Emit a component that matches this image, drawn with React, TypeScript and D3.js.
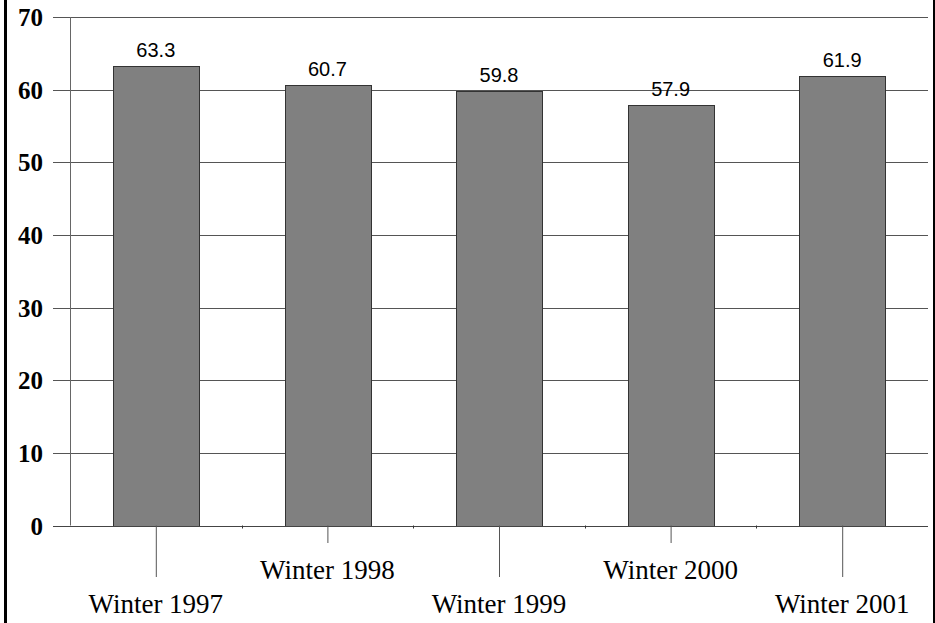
import React, { useEffect, useRef } from 'react';
import * as d3 from 'd3';

const categories = ['Winter 1997', 'Winter 1998', 'Winter 1999', 'Winter 2000', 'Winter 2001'];
const values = [63.3, 60.7, 59.8, 57.9, 61.9];
const yTicks = [0, 10, 20, 30, 40, 50, 60, 70];

const App: React.FC = () => {
    const ref = useRef<SVGSVGElement | null>(null);

    useEffect(() => {
        if (!ref.current) return;
        const width = 935;
        const height = 623;
        const left = 70, right = 928, top = 17, bottom = 525.5;

        const svg = d3.select(ref.current);
        svg.selectAll('*').remove();
        svg.attr('width', width).attr('height', height);

        svg.append('rect').attr('width', width).attr('height', height).attr('fill', '#fff');

        const x = d3.scaleBand<string>()
            .domain(categories)
            .range([left, right])
            .paddingInner(0.5)
            .paddingOuter(0.25);

        const y = d3.scaleLinear().domain([0, 70]).range([bottom, top]);

        // horizontal gridlines + left ticks
        svg.append('g')
            .selectAll('line')
            .data(yTicks.filter(d => d > 0))
            .enter()
            .append('line')
            .attr('x1', 53)
            .attr('x2', right)
            .attr('y1', d => Math.round(y(d)) + 0.5)
            .attr('y2', d => Math.round(y(d)) + 0.5)
            .attr('stroke', '#555')
            .attr('stroke-width', 1);

        // y axis line
        svg.append('line')
            .attr('x1', left + 0.5).attr('x2', left + 0.5)
            .attr('y1', y(70)).attr('y2', bottom)
            .attr('stroke', '#666');

        // y tick labels
        svg.append('g')
            .selectAll('text')
            .data(yTicks)
            .enter()
            .append('text')
            .attr('x', 43)
            .attr('y', d => y(d) + 9)
            .attr('text-anchor', 'end')
            .attr('font-family', '"Liberation Serif", "Times New Roman", serif')
            .attr('font-weight', 'bold')
            .attr('font-size', '25px')
            .attr('fill', '#000')
            .text(d => d);

        // bars
        svg.append('g')
            .selectAll('rect')
            .data(values)
            .enter()
            .append('rect')
            .attr('x', (d, i) => Math.round(x(categories[i])!) + 0.5)
            .attr('y', d => Math.round(y(d)) + 0.5)
            .attr('width', Math.round(x.bandwidth()))
            .attr('height', d => Math.round(bottom) - Math.round(y(d)))
            .attr('fill', '#808080')
            .attr('stroke', '#333')
            .attr('stroke-width', 1);

        // value labels
        svg.append('g')
            .selectAll('text')
            .data(values)
            .enter()
            .append('text')
            .attr('x', (d, i) => x(categories[i])! + x.bandwidth() / 2)
            .attr('y', d => y(d) - 9)
            .attr('text-anchor', 'middle')
            .attr('font-family', '"Liberation Sans", Arial, sans-serif')
            .attr('font-size', '20px')
            .attr('fill', '#000')
            .text(d => d.toFixed(1));

        // baseline
        svg.append('line')
            .attr('x1', 53).attr('x2', right)
            .attr('y1', Math.round(bottom) + 0.5).attr('y2', Math.round(bottom) + 0.5)
            .attr('stroke', '#444');

        // small ticks at category boundaries
        const step = x.step();
        svg.append('g')
            .selectAll('line')
            .data(d3.range(1, categories.length))
            .enter()
            .append('line')
            .attr('x1', i => Math.round(left + i * step) + 0.5)
            .attr('x2', i => Math.round(left + i * step) + 0.5)
            .attr('y1', bottom)
            .attr('y2', bottom + 3)
            .attr('stroke', '#333');

        // staggered category ticks and labels
        const g = svg.append('g')
            .selectAll('g')
            .data(categories)
            .enter()
            .append('g')
            .attr('transform', d => `translate(${x(d)! + x.bandwidth() / 2},0)`);

        g.append('line')
            .attr('x1', 0.5).attr('x2', 0.5)
            .attr('y1', bottom)
            .attr('y2', (d, i) => (i % 2 === 0 ? 577 : 543))
            .attr('stroke', '#555');

        g.append('text')
            .attr('y', (d, i) => (i % 2 === 0 ? 613 : 579))
            .attr('text-anchor', 'middle')
            .attr('font-family', '"Liberation Serif", "Times New Roman", serif')
            .attr('font-size', '27px')
            .attr('fill', '#000')
            .text(d => d);

        // frame edges
        svg.append('rect').attr('x', 4).attr('y', 0).attr('width', 3).attr('height', height).attr('fill', '#000');
        svg.append('rect').attr('x', 933).attr('y', 0).attr('width', 2).attr('height', height).attr('fill', '#000');
    }, []);

    return (
        <div>
            <svg ref={ref} style={{ position: 'absolute', left: 0, top: 0 }} />
        </div>
    );
};

export default App;
